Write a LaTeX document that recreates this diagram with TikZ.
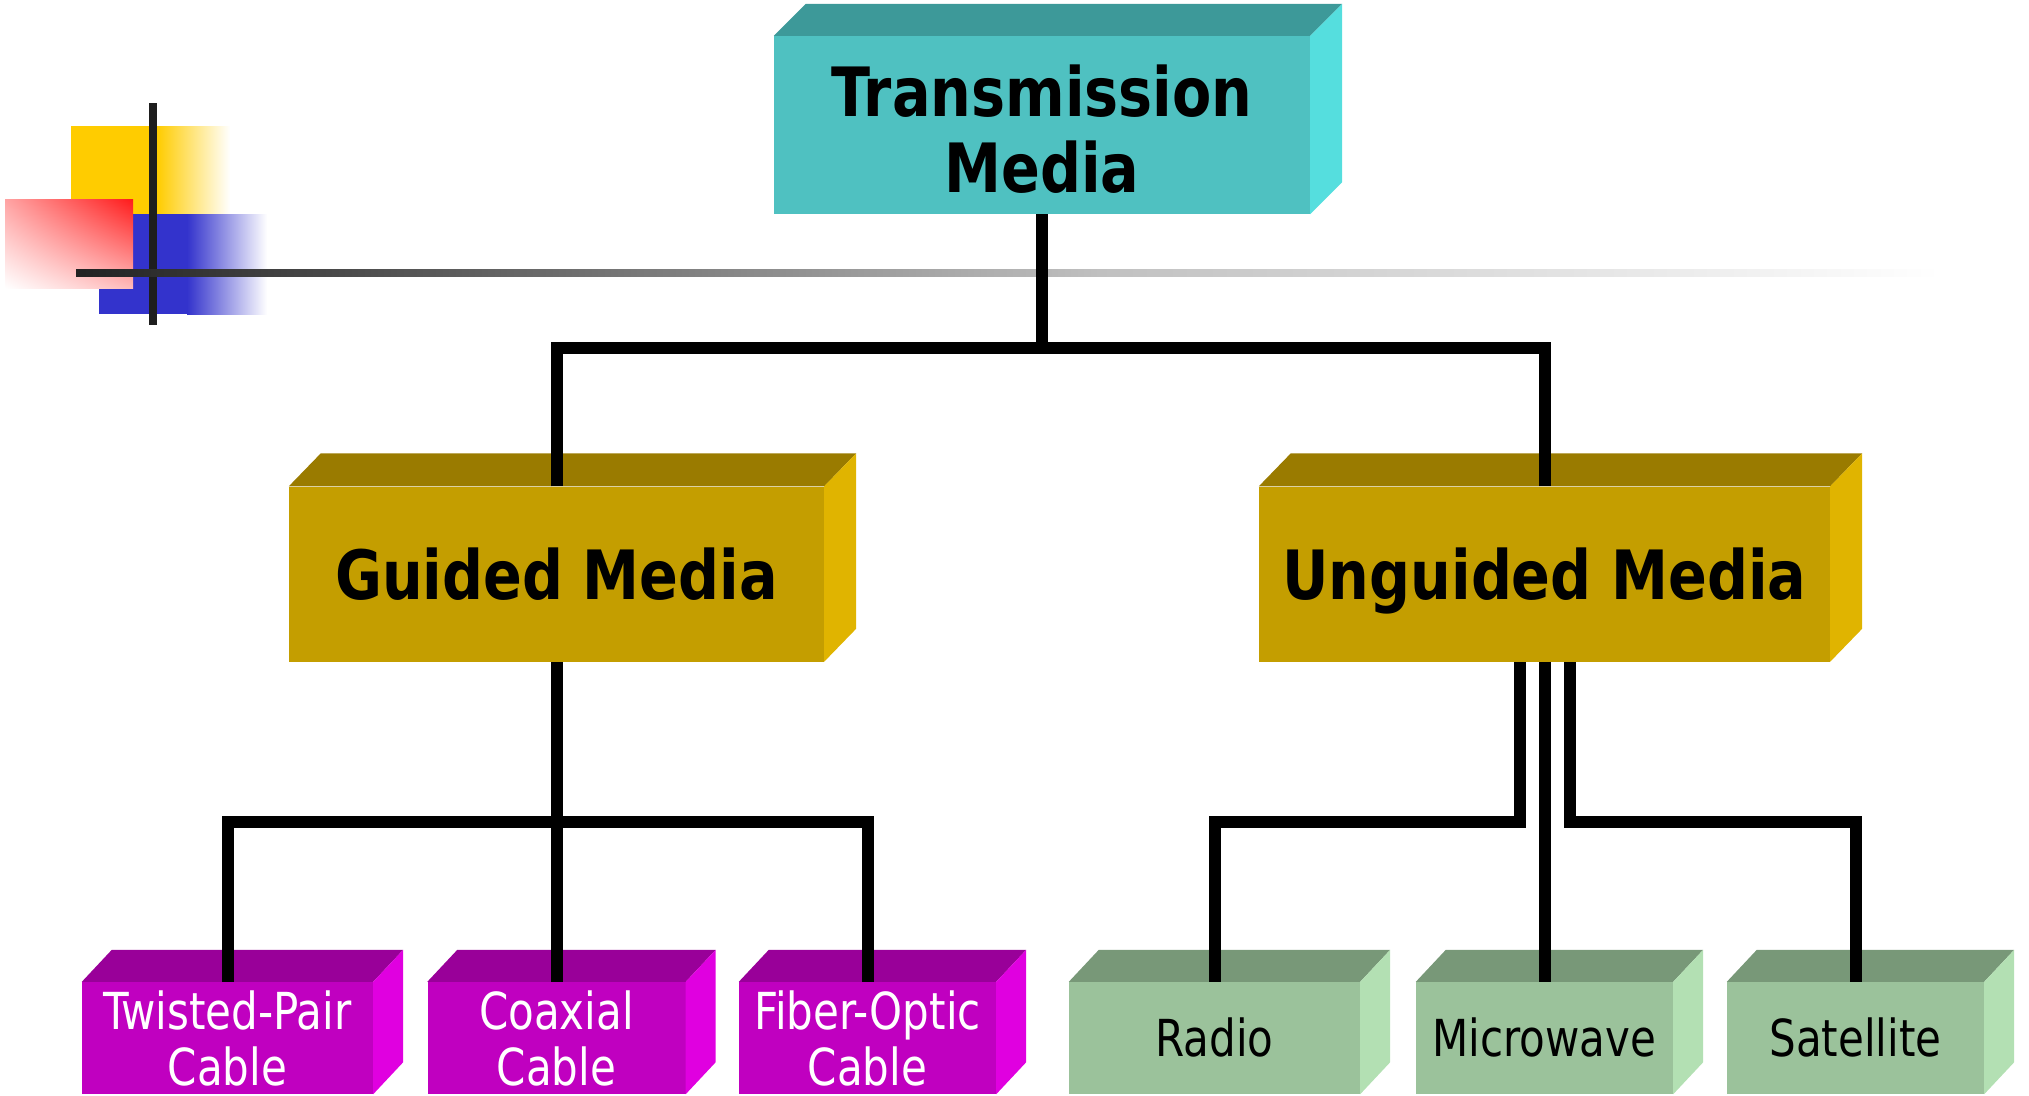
\documentclass[tikz,border=0pt]{standalone}
\usepackage{fontspec}
\usetikzlibrary{shadings}
\newfontfamily\hdfont{DejaVu Sans Condensed}[FakeStretch=0.935]
\newfontfamily\lbfont{DejaVu Sans Condensed}[FakeStretch=0.915]
\definecolor{tealF}{HTML}{4FC1C1}
\definecolor{tealT}{HTML}{3D9999}
\definecolor{tealS}{HTML}{55DEDE}
\definecolor{goldF}{HTML}{C49E00}
\definecolor{goldT}{HTML}{9A7B00}
\definecolor{goldS}{HTML}{E0B400}
\definecolor{magF}{HTML}{C000C0}
\definecolor{magT}{HTML}{990099}
\definecolor{magS}{HTML}{E000E0}
\definecolor{grnF}{HTML}{9BC29B}
\definecolor{grnT}{HTML}{789878}
\definecolor{grnS}{HTML}{B3E0B3}
\definecolor{decoY}{HTML}{FFCC00}
\definecolor{decoB}{HTML}{3333CC}
\definecolor{decoR}{HTML}{FF1A1A}
\definecolor{decoK}{HTML}{1E1E1E}
\definecolor{lineA}{HTML}{222222}
\definecolor{lineB}{HTML}{C0C0C0}
\newcommand\cuboidfaces[5]{%
  \fill[#2] (#1.north west) -- ++(#4,-#5) -- ([shift={(#4,-#5)}]#1.north east) -- (#1.north east) -- cycle;
  \fill[#3] (#1.north east) -- ++(#4,-#5) -- ([shift={(#4,-#5)}]#1.south east) -- (#1.south east) -- cycle;}
\tikzset{
  box/.style={rectangle, inner sep=0pt, align=center},
  bigbox/.style={box, minimum height=175pt, font=\hdfont\bfseries\fontsize{68}{76}\selectfont, text=black, text height=50pt, text depth=0pt},
  leafbox/.style={box, minimum height=112pt, font=\lbfont\fontsize{51}{56}\selectfont},
  oneline/.style={text height=37pt, text depth=0pt},
  magbox/.style={leafbox, fill=magF, text=white},
  grnbox/.style={leafbox, oneline, fill=grnF, text=black},
  conn/.style={line width=12pt, black}
}
\begin{document}
\begin{tikzpicture}[x=1pt,y=-1pt]
\useasboundingbox (0,0) rectangle (2029,1095);
% decoration
\fill[decoY] (71,126) rectangle (157,214);
\shade[left color=decoY, right color=white] (157,126) rectangle (230,214);
\fill[decoB] (99,214) rectangle (187,314);
\shade[left color=decoB, right color=white] (187,214) rectangle (267,314);
\shade[upper right=decoR, lower left=white, upper left=decoR!40!white, lower right=decoR!30!white] (5,199) rectangle (133,288);
\draw[line width=8pt, decoK] (153,103) -- (153,325);
\shade[left color=lineA, right color=lineB] (76,269) rectangle (1100,276);
\shade[left color=lineB, right color=white] (1099.5,269) rectangle (1940,276);
% boxes
\node[box, fill=tealF, minimum width=536pt, minimum height=178pt, font=\hdfont\bfseries\fontsize{68}{76}\selectfont] (tm) at (1042,125) {\rule{0pt}{59pt}Transmission\\Media};
\cuboidfaces{tm}{tealT}{tealS}{32}{32}
\node[bigbox, fill=goldF, minimum width=535pt] (gm) at (556.5,574) {Guided Media};
\cuboidfaces{gm}{goldT}{goldS}{32}{33}
\node[bigbox, fill=goldF, minimum width=571pt] (um) at (1544.5,574) {Unguided Media};
\cuboidfaces{um}{goldT}{goldS}{32}{33}
\node[magbox, minimum width=291pt] (tp) at (227.5,1038) {Twisted-Pair\\Cable};
\cuboidfaces{tp}{magT}{magS}{30}{32}
\node[magbox, minimum width=258pt] (cx) at (556.5,1038) {Coaxial\\Cable};
\cuboidfaces{cx}{magT}{magS}{30}{32}
\node[magbox, minimum width=257pt] (fo) at (867.5,1038) {Fiber-Optic\\Cable};
\cuboidfaces{fo}{magT}{magS}{30}{32}
\node[grnbox, minimum width=291pt] (rd) at (1214.5,1038) {Radio};
\cuboidfaces{rd}{grnT}{grnS}{30}{32}
\node[grnbox, minimum width=257pt] (mw) at (1544.5,1038) {Microwave};
\cuboidfaces{mw}{grnT}{grnS}{30}{32}
\node[grnbox, minimum width=257pt] (st) at (1855.5,1038) {Satellite};
\cuboidfaces{st}{grnT}{grnS}{30}{32}
% connectors
\draw[conn] (gm.north) -- ++(0,-138) -| (tm.south);
\draw[conn] (um.north) -- ++(0,-138) -| (tm.south);
\draw[conn] (tp.north) -- ++(0,-160) -| (gm.south);
\draw[conn] (fo.north) -- ++(0,-160) -| (gm.south);
\draw[conn] (cx.north) -- (gm.south);
\draw[conn] (rd.north) -- ++(0,-160) -| ([xshift=-25pt]um.south);
\draw[conn] (st.north) -- ++(0,-160) -| ([xshift=25pt]um.south);
\draw[conn] (mw.north) -- (um.south);
\end{tikzpicture}
\end{document}
